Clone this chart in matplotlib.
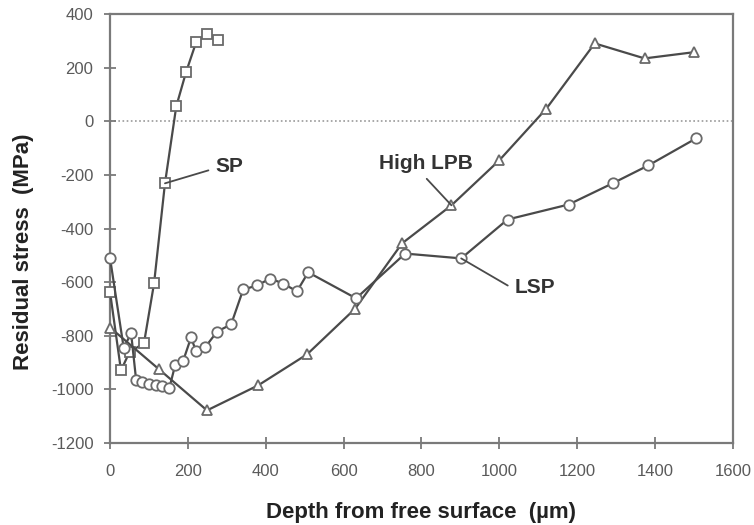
import matplotlib.pyplot as plt

plt.rcParams['font.family'] = ['Liberation Sans', 'DejaVu Sans']
plt.rcParams['axes.unicode_minus'] = False

# depth (um) and residual stress (MPa) for each treatment
sp_depth = [0, 28, 50, 87, 113, 141, 170, 195, 221, 249, 277]
sp_stress = [-638, -929, -860, -828, -604, -231, 56, 183, 295, 325, 302]

lsp_depth = [0, 35, 54, 67, 82, 100, 118, 134, 152, 167, 188, 208, 221, 244, 275,
             311, 342, 378, 411, 445, 480, 509, 632, 758, 902, 1021, 1178, 1291,
             1383, 1506]
lsp_stress = [-511, -845, -790, -966, -972, -978, -982, -988, -996, -910, -892,
              -806, -858, -843, -784, -757, -627, -612, -586, -605, -634, -563,
              -660, -493, -511, -366, -310, -231, -164, -63]

lpb_depth = [0, 126, 249, 380, 506, 630, 750, 877, 1000, 1121, 1245, 1373, 1499]
lpb_stress = [-769, -925, -1078, -985, -869, -698, -455, -313, -145, 48, 291,
              235, 258]

line_c = '#4a4a4a'
edge_c = '#6a6a6a'
axis_c = '#7a7a7a'

fig = plt.figure(figsize=(7.54, 5.25), dpi=100)
ax = fig.add_axes([0.146, 0.156, 0.826, 0.817])

ax.axhline(0, color='#999999', lw=1.2, ls=(0, (1, 1.5)), zorder=1)

style = dict(color=line_c, lw=1.6, mfc='white', mec=edge_c, mew=1.3, zorder=3,
             clip_on=False)
ax.plot(sp_depth, sp_stress, marker='s', ms=6.5, **style)
ax.plot(lpb_depth, lpb_stress, marker='^', ms=7, **style)
ax.plot(lsp_depth, lsp_stress, marker='o', ms=7.5, **style)

# curve labels with leader lines
ann = dict(fontsize=15, fontweight='bold', color='#333333', va='center', ha='left')
ax.annotate('SP', xy=(141, -231), xytext=(270, -168),
            arrowprops=dict(arrowstyle='-', color=line_c, lw=1.3, shrinkA=3, shrinkB=0,
                            relpos=(0, 0.4)),
            **ann)
ax.annotate('High LPB', xy=(877, -313), xytext=(691, -157),
            arrowprops=dict(arrowstyle='-', color=line_c, lw=1.3, shrinkA=3, shrinkB=0,
                            relpos=(0.45, 0)),
            **ann)
ax.annotate('LSP', xy=(902, -511), xytext=(1038, -619),
            arrowprops=dict(arrowstyle='-', color=line_c, lw=1.3, shrinkA=3, shrinkB=0,
                            relpos=(0, 0.4)),
            **ann)

ax.set_xlim(0, 1600)
ax.set_ylim(-1200, 400)
ax.set_xticks(range(0, 1601, 200))
ax.set_yticks(range(-1200, 401, 200))

for s in ax.spines.values():
    s.set_color(axis_c)
    s.set_linewidth(1.6)
ax.tick_params(direction='inout', length=8, width=1.3, color=axis_c,
               labelsize=12, labelcolor='#5a5a5a')
ax.tick_params(axis='y', pad=8)
ax.tick_params(axis='x', pad=11)

ax.set_xlabel('Depth from free surface  (\u00b5m)', fontsize=16, fontweight='bold',
              color='#222222')
ax.set_ylabel('Residual stress  (MPa)', fontsize=16, fontweight='bold',
              color='#222222')
ax.xaxis.set_label_coords(0.5, -0.137)
ax.yaxis.set_label_coords(-0.122, 0.447)

fig.savefig('out.png', dpi=100)
